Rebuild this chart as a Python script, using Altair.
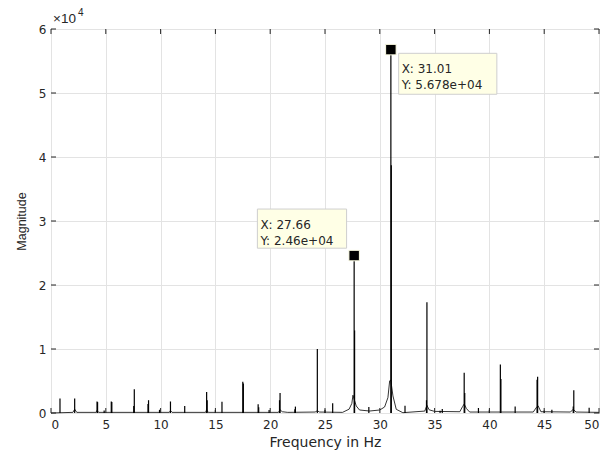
import altair as alt
import pandas as pd

# Main spectral lines (Hz, magnitude)
spike_freq = [0.82, 2.16, 4.2, 5.5, 7.6, 8.9, 10.9, 12.2, 14.2, 15.6, 17.5, 18.9,
              20.9, 22.3, 24.3, 25.7, 27.66, 29.0, 31.01, 32.3, 34.3, 35.7, 37.7,
              39.0, 41.0, 42.35, 44.4, 45.7, 47.7, 49.1,
              4.85, 9.9, 15.0, 19.9, 25.0, 40.0, 45.0, 35.5]
spike_mag = [2250, 2250, 1800, 1800, 3700, 2000, 1800, 1100, 3300, 1750, 4870, 1350,
             3140, 1000, 10000, 1520, 24600, 950, 56780, 1150, 17300, 630, 6280,
             780, 7580, 1000, 5650, 520, 3560, 830,
             400, 500, 450, 450, 500, 500, 400, 350]

# Adjacent-bin lines (Hz, magnitude)
side_freq = [4.25, 5.55, 7.55, 8.85, 14.25, 17.55, 18.95, 20.85, 22.25, 27.7,
             31.05, 34.26, 37.75, 41.05, 44.35, 47.65]
side_mag = [1700, 1700, 1100, 1400, 2000, 4600, 900, 2000, 600, 12900,
            38700, 2000, 3140, 5300, 5200, 1000]

# Continuous background of the spectrum (Hz, magnitude)
bg_freq = [0.0, 2.0, 2.16, 2.35, 4.1, 4.2, 4.35, 10.8, 10.9, 11.05, 14.1, 14.2, 14.35,
           20.75, 20.9, 21.1, 21.6, 24.1, 24.3, 24.5, 26.6, 27.2, 27.45, 27.55,
           27.85, 28.15, 29.07, 30.0, 30.44, 30.74, 30.9, 31.0, 31.2, 31.5, 32.1,
           34.1, 34.3, 34.5, 35.0, 37.3, 37.55, 37.7, 37.9, 38.2, 44.0, 44.3,
           44.45, 44.7, 47.4, 47.65, 47.9, 50.0]
bg_mag = [0, 100, 600, 100, 100, 400, 100, 100, 400, 100, 100, 500, 100,
          100, 500, 200, 100, 150, 350, 150, 100, 600, 1500, 2780,
          1100, 470, 310, 470, 940, 2400, 5030, 5130, 2670, 580, 50,
          300, 1200, 500, 250, 200, 1000, 1400, 700, 150, 150, 900,
          1100, 200, 150, 600, 150, 100]

# Data tips
tip_freq = [31.01, 27.66]
tip_mag = [56780, 24600]
tip_line1 = ["X: 31.01", "X: 27.66"]
tip_line2 = ["Y: 5.678e+04", "Y: 2.46e+04"]

x_ticks = list(range(0, 51, 5))
y_ticks = list(range(0, 60001, 10000))

W, H = 548, 384
FONT = "DejaVu Sans"
FONT_Y = "Liberation Sans"
TXT = "#262626"

spikes = pd.DataFrame({"f": spike_freq + side_freq, "m": spike_mag + side_mag})
bg = pd.DataFrame({"f": bg_freq, "m": bg_mag})
tips = pd.DataFrame({"f": tip_freq, "m": tip_mag, "l1": tip_line1, "l2": tip_line2})
# box placement in data units (layout)
tips["bx1"] = [31.72, 18.83]
tips["bx2"] = [40.68, 26.97]
tips["by1"] = [56200, 31870]
tips["by2"] = [49800, 25750]
tips["t1"] = [53700, 29400]
tips["t2"] = [51200, 26800]

xs = alt.Scale(domain=[0, 50], nice=False, zero=False)
ys = alt.Scale(domain=[0, 60000], nice=False)

xax = alt.Axis(values=x_ticks, grid=True, gridColor="#e3e3e3", domain=False, ticks=False,
               labelFont=FONT, labelFontSize=12, labelColor=TXT, labelPadding=6,
               title="Frequency in Hz", titleFont=FONT, titleFontSize=14,
               titleFontWeight="normal", titleColor=TXT, titlePadding=5)
yax = alt.Axis(values=y_ticks, grid=True, gridColor="#e3e3e3", domain=False, ticks=False,
               labelExpr="datum.value/10000", labelFont=FONT, labelFontSize=12,
               labelColor=TXT, labelPadding=5,
               title="Magnitude", titleFont=FONT_Y, titleFontSize=12.5,
               titleFontWeight="normal", titleColor=TXT, titlePadding=10)

bg_line = alt.Chart(bg).mark_line(color="black", strokeWidth=0.8).encode(
    x=alt.X("f:Q", scale=xs, axis=xax),
    y=alt.Y("m:Q", scale=ys, axis=yax),
)

spike_rules = alt.Chart(spikes).mark_rule(color="black", strokeWidth=1.2).encode(
    x="f:Q", y=alt.Y("m:Q"), y2=alt.datum(0)
)

boxes = alt.Chart(tips).mark_rect(fill="#ffffe6", stroke="#cfcfcf", strokeWidth=1).encode(
    x="bx1:Q", x2="bx2:Q", y="by1:Q", y2="by2:Q"
)
t1 = alt.Chart(tips).mark_text(align="left", baseline="middle", font=FONT, fontSize=12,
                                color=TXT, dx=3).encode(x="bx1:Q", y="t1:Q", text="l1:N")
t2 = alt.Chart(tips).mark_text(align="left", baseline="middle", font=FONT, fontSize=12,
                                color=TXT, dx=3).encode(x="bx1:Q", y="t2:Q", text="l2:N")
markers = alt.Chart(tips).mark_square(size=110, color="black", stroke="#ffffe6",
                                      strokeWidth=1, opacity=1).encode(x="f:Q", y="m:Q")

xt = pd.DataFrame({"v": x_ticks})
yt = pd.DataFrame({"v": y_ticks})
xt_bot = alt.Chart(xt).mark_rule(color=TXT).encode(x="v:Q", y=alt.value(H), y2=alt.value(H - 5))
xt_top = alt.Chart(xt).mark_rule(color=TXT).encode(x="v:Q", y=alt.value(0), y2=alt.value(5))
yt_l = alt.Chart(yt).mark_rule(color=TXT).encode(y="v:Q", x=alt.value(0), x2=alt.value(5))
yt_r = alt.Chart(yt).mark_rule(color=TXT).encode(y="v:Q", x=alt.value(W), x2=alt.value(W - 5))

expo = alt.Chart(pd.DataFrame({"t": ["\u00d710"]})).mark_text(
    align="left", baseline="middle", font=FONT_Y, fontSize=13.5, color=TXT
).encode(x=alt.value(2), y=alt.value(-10), text="t:N")
expo4 = alt.Chart(pd.DataFrame({"t": ["4"]})).mark_text(
    align="left", baseline="middle", font=FONT_Y, fontSize=10, color=TXT
).encode(x=alt.value(27), y=alt.value(-16), text="t:N")

chart = alt.layer(
    bg_line, spike_rules, xt_bot, xt_top, yt_l, yt_r, boxes, t1, t2, markers, expo, expo4
).properties(
    width=W, height=H,
    autosize=alt.AutoSizeParams(type="none"),
    padding={"left": 43, "top": 21, "right": 9, "bottom": 43},
    background="white",
).configure_view(stroke="#262626", strokeWidth=1)

chart.save("out.html", embed_options={"renderer": "svg", "actions": False})
